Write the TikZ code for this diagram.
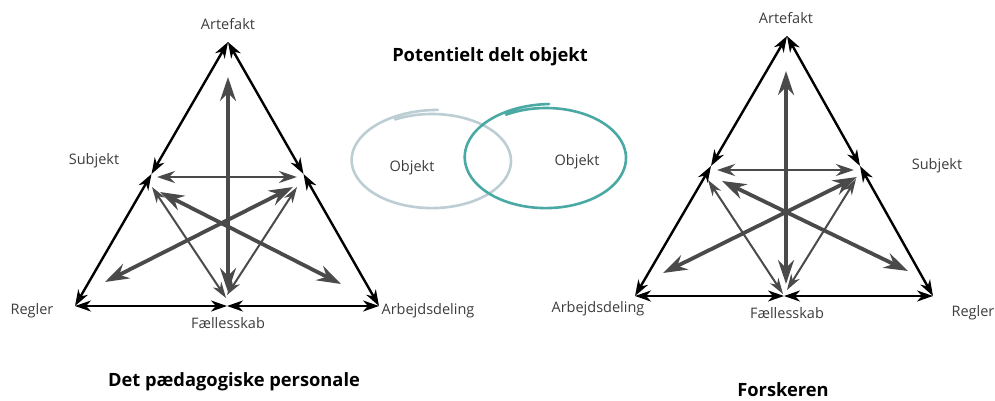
\documentclass[tikz,border=0pt]{standalone}
\usepackage{fontspec}
\setmainfont{Open Sans}
\usetikzlibrary{arrows.meta}
\definecolor{lbl}{HTML}{3C3C3C}
\definecolor{gry}{HTML}{4A4A4A}
\definecolor{lightobj}{HTML}{BCCED4}
\definecolor{tealobj}{HTML}{4AA9A3}
\tikzset{
  edgearrow/.style={draw=black, line width=2.4pt, {Stealth[length=16pt,width=11pt,inset=5pt]}-{Stealth[length=16pt,width=11pt,inset=5pt]}},
  thickarrow/.style={draw=gry, line width=3.8pt, {Stealth[length=24pt,width=16pt,inset=8pt]}-{Stealth[length=24pt,width=16pt,inset=8pt]}},
  medarrow/.style={draw=gry, line width=2.6pt, {Stealth[length=18pt,width=12pt,inset=6pt]}-{Stealth[length=18pt,width=12pt,inset=6pt]}},
  thinarrow/.style={draw=gry, line width=2pt, {Stealth[length=16pt,width=10pt,inset=5pt]}-{Stealth[length=16pt,width=10pt,inset=5pt]}},
  lab/.style={font=\fontsize{14.5}{17}\selectfont, text=lbl, inner sep=0pt},
  ttl/.style={font=\fontsize{18.3}{21}\selectfont\bfseries, text=black, inner sep=0pt},
  sketch/.style={line width=2.6pt, line cap=round}
}
\begin{document}
\begin{tikzpicture}[x=1pt,y=-1pt]
\useasboundingbox (0,0) rectangle (995,401);
% ---------- left triangle ----------
\coordinate (lA) at (228,42);
\coordinate (lL) at (75,306);
\coordinate (lR) at (379,306);
\coordinate (lML) at (151.5,174);
\coordinate (lMR) at (303.5,174);
\coordinate (lMB) at (227,306);
\draw[edgearrow] (lA) -- (lML);
\draw[edgearrow] (lML) -- (lL);
\draw[edgearrow] (lA) -- (lMR);
\draw[edgearrow] (lMR) -- (lR);
\draw[edgearrow] (lL) -- (lMB);
\draw[edgearrow] (lMB) -- (lR);
\coordinate (lv1) at (228,77);
\coordinate (lv2) at (228,292);
\coordinate (lh1) at (157,177);
\coordinate (lh2) at (297,177);
\coordinate (lt1) at (152,187);
\coordinate (lt2) at (226,298);
\coordinate (lt3) at (297,187);
\coordinate (lt4) at (227,295);
\coordinate (ld1) at (160,192);
\coordinate (ld2) at (341,284);
\coordinate (ld3) at (293,187);
\coordinate (ld4) at (105,282);
\draw[thickarrow] (lv1) -- (lv2);
\draw[medarrow] (lh1) -- (lh2);
\draw[thinarrow] (lt1) -- (lt2);
\draw[thinarrow] (lt3) -- (lt4);
\draw[thickarrow] (ld1) -- (ld2);
\draw[thickarrow] (ld3) -- (ld4);
\node[lab] (lArt) at (228,24) {Artefakt};
\node[lab] (lSub) at (94,161) {Subjekt};
\node[lab] (lReg) at (32,311) {Regler};
\node[lab] (lFae) at (228,323) {Fællesskab};
\node[lab] (lArb) at (428,311) {Arbejdsdeling};
\node[ttl] (lTtl) at (234,382) {Det pædagogiske personale};
% ---------- right triangle ----------
\coordinate (rA) at (787,36);
\coordinate (rL) at (635,296);
\coordinate (rR) at (933,296);
\coordinate (rML) at (711,166);
\coordinate (rMR) at (860,166);
\coordinate (rMB) at (784,296);
\draw[edgearrow] (rA) -- (rML);
\draw[edgearrow] (rML) -- (rL);
\draw[edgearrow] (rA) -- (rMR);
\draw[edgearrow] (rMR) -- (rR);
\draw[edgearrow] (rL) -- (rMB);
\draw[edgearrow] (rMB) -- (rR);
\coordinate (rv1) at (786,71);
\coordinate (rv2) at (786,284);
\coordinate (rh1) at (717,170);
\coordinate (rh2) at (854,170);
\coordinate (rt1) at (708,180);
\coordinate (rt2) at (783,294);
\coordinate (rt3) at (856,179);
\coordinate (rt4) at (787,290);
\coordinate (rd1) at (722,181);
\coordinate (rd2) at (908,271);
\coordinate (rd3) at (857,177);
\coordinate (rd4) at (663,273);
\draw[thickarrow] (rv1) -- (rv2);
\draw[medarrow] (rh1) -- (rh2);
\draw[thinarrow] (rt1) -- (rt2);
\draw[thinarrow] (rt3) -- (rt4);
\draw[thickarrow] (rd1) -- (rd2);
\draw[thickarrow] (rd3) -- (rd4);
\node[lab] (rArt) at (786,18) {Artefakt};
\node[lab] (rSub) at (937,166) {Subjekt};
\node[lab] (rArb) at (598,309) {Arbejdsdeling};
\node[lab] (rFae) at (787,313) {Fællesskab};
\node[lab] (rReg) at (973,313) {Regler};
\node[ttl] (rTtl) at (783,390) {Forskeren};
% ---------- middle ----------
\node[ttl] (mTtl) at (490,57) {Potentielt delt objekt};
\draw[sketch, draw=lightobj] plot[smooth, domain=0:392, samples=90]
  ({432 + 79*cos(118-\x)*(1+0.09*(\x/392)^6)}, {161 - 47*sin(118-\x)*(1+0.09*(\x/392)^6)});
\draw[sketch, draw=tealobj] plot[smooth, domain=0:392, samples=90]
  ({546 + 80*cos(120-\x)*(1+0.08*(\x/392)^6)}, {158 - 50*sin(120-\x)*(1+0.08*(\x/392)^6)});
\node[lab] (oL) at (412,168) {Objekt};
\node[lab] (oR) at (577,162) {Objekt};
\end{tikzpicture}
\end{document}
